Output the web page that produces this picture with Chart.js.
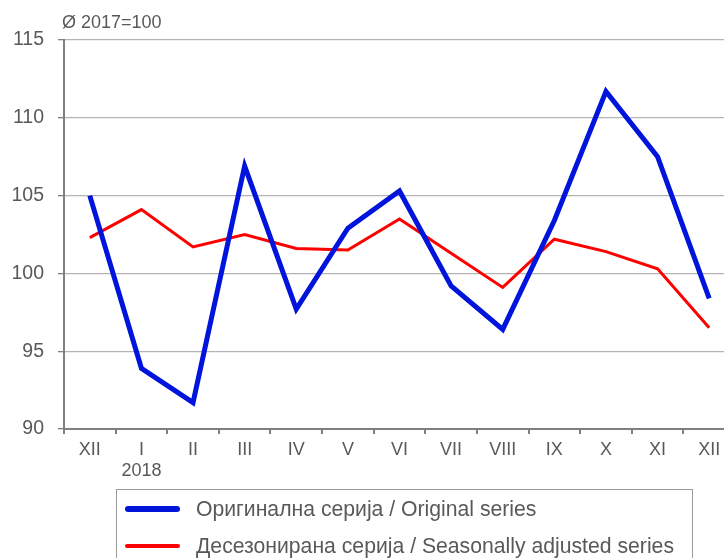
<!DOCTYPE html>
<html>
<head>
<meta charset="utf-8">
<script src="https://cdn.jsdelivr.net/npm/chart.js@4/dist/chart.umd.min.js"></script>
<style>
  html, body { margin: 0; padding: 0; background: #fff; overflow: hidden; }
  #wrap { position: relative; width: 744px; height: 558px; }
  #chart { position: absolute; left: 0; top: 0; }
  #legend {
    position: absolute; left: 116px; top: 489px; width: 577px; height: 90px;
    border: 1px solid #9a9a9a; box-sizing: border-box;
    font-family: "Liberation Sans", Arial, sans-serif; font-size: 21.2px; color: #595959;
  }
  #legend .row { position: absolute; left: 8px; height: 24px; display: flex; align-items: center; white-space: nowrap; }
  #legend .swatch { width: 55px; border-radius: 3px; margin-right: 16px; }
</style>
</head>
<body>
<div id="wrap">
  <canvas id="chart" width="744" height="490"></canvas>
  <div id="legend"></div>
</div>
<script>
// months, Dec 2017 .. Dec 2018
const months = ["XII", ["I", "2018"], "II", "III", "IV", "V", "VI", "VII", "VIII", "IX", "X", "XI", "XII"]
const originalSeries = [105.0, 93.9, 91.7, 106.9, 97.7, 102.9, 105.3, 99.2, 96.4, 103.4, 111.7, 107.5, 98.4]
const adjustedSeries = [102.3, 104.1, 101.7, 102.5, 101.6, 101.5, 103.5, 101.3, 99.1, 102.2, 101.4, 100.3, 96.5]
const yTicks = [90, 95, 100, 105, 110, 115]
const seriesNames = ["Оригинална серија / Original series", "Десезонирана серија / Seasonally adjusted series"]
const unitNote = "Ø 2017=100"

const grey = "#595959"
const font = "'Liberation Sans', Arial, sans-serif"

const titlePlugin = {
  id: "unitNote",
  afterDraw(chart) {
    const c = chart.ctx
    c.save()
    c.font = "18px " + font
    c.fillStyle = grey
    c.textBaseline = "middle"
    c.fillText(unitNote, 62, 23)
    c.restore()
  }
}

const chart = new Chart(document.getElementById("chart"), {
  type: "line",
  data: {
    labels: months,
    datasets: [
      { label: seriesNames[0], data: originalSeries, borderColor: "#0014DC", borderWidth: 5, pointRadius: 0, tension: 0, borderJoinStyle: "miter" },
      { label: seriesNames[1], data: adjustedSeries, borderColor: "#FF0000", borderWidth: 3, pointRadius: 0, tension: 0, borderJoinStyle: "miter" }
    ]
  },
  options: {
    responsive: false,
    animation: false,
    layout: { padding: { top: 40, right: 9, bottom: 0, left: 0 } },
    plugins: { legend: { display: false }, tooltip: { enabled: false } },
    scales: {
      x: {
        offset: true,
        grid: { display: true, offset: true, drawOnChartArea: false, tickLength: 5, color: "#808080", lineWidth: 2 },
        border: { color: "#808080", width: 2 },
        ticks: { color: grey, font: { size: 18, family: font, lineHeight: 1.2 }, padding: 5, maxRotation: 0, autoSkip: false },
        afterFit: s => { s.height = 61 }
      },
      y: {
        min: 90, max: 115,
        afterBuildTicks: s => { s.ticks = yTicks.map(v => ({ value: v })) },
        grid: { color: "#b4b4b4", lineWidth: 1.3, tickLength: 6, tickColor: "#808080" },
        border: { color: "#808080", width: 2 },
        ticks: { color: grey, font: { size: 19.5, family: font }, padding: 14 },
        afterFit: s => { s.width = 64 }
      }
    }
  },
  plugins: [titlePlugin]
})

// legend box built from the datasets
const legend = document.getElementById("legend")
chart.data.datasets.forEach((ds, i) => {
  const row = document.createElement("div")
  row.className = "row"
  row.style.top = (7 + i * 37) + "px"
  row.innerHTML = `<span class="swatch" style="height:${i ? 4 : 6}px;background:${ds.borderColor}"></span><span>${ds.label}</span>`
  legend.appendChild(row)
})
</script>
</body>
</html>
